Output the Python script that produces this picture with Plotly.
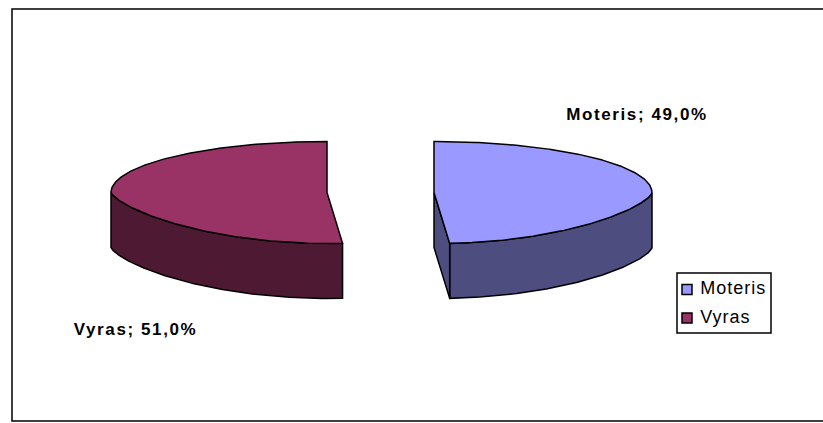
import numpy as np
import plotly.graph_objects as go

categories = ["Moteris", "Vyras"]
shares = [49.0, 51.0]
top_colors = ["#9999FF", "#993366"]
side_colors = ["#4D4D80", "#4D1933"]
label_texts = ["Moteris; 49,0%", "Vyras; 51,0%"]

# Pie geometry in pixel units of the hidden axes
centers_x = [434, 327]
center_y = 192.5
radii_x = [218, 216]
radius_y = 51
depth = 55
front_power = 1.4
front_shear = 2.0


def rim(cx, rx, theta_deg, drop=0.0):
    """Project clockwise-from-top angles onto the tilted disc."""
    t = np.radians(theta_deg)
    c = np.cos(t)
    y = np.where(c >= 0, c, -np.abs(c) ** front_power)
    shear = np.where(c < 0, -c * front_shear, 0.0)
    return cx + rx * np.sin(t) + shear, center_y - radius_y * y + drop


fig = go.Figure()
line = dict(color="black", width=1.5)


def polygon(xs, ys, color):
    fig.add_trace(go.Scatter(
        x=list(xs), y=list(ys), mode="lines", fill="toself", fillcolor=color,
        line=line, hoverinfo="skip", showlegend=False,
    ))


boundary = np.cumsum([0.0] + shares) * 3.6
for i, name in enumerate(categories):
    a0, a1 = boundary[i], boundary[i + 1]
    cx, rx = centers_x[i], radii_x[i]
    # outer wall: only the part of the rim facing the viewer
    lo, hi = max(a0, 90), min(a1, 270)
    wall = np.linspace(lo, hi, 120)
    x_top, y_top = rim(cx, rx, wall)
    x_bot, y_bot = rim(cx, rx, wall, depth)
    polygon(np.r_[x_top, x_bot[::-1], x_top[0]], np.r_[y_top, y_bot[::-1], y_top[0]], side_colors[i])
    # cut wall on the slice whose radial edge faces the viewer
    if i == 0:
        ex, ey = rim(cx, rx, np.array([a1]))
        polygon([cx, ex[0], ex[0], cx, cx],
                [center_y, ey[0], ey[0] + depth, center_y + depth, center_y], side_colors[i])
    # top face
    arc = np.linspace(a0, a1, 240)
    x_arc, y_arc = rim(cx, rx, arc)
    polygon(np.r_[cx, x_arc, cx], np.r_[center_y, y_arc, center_y], top_colors[i])

# Data labels
fig.add_trace(go.Scatter(
    x=[637, 135.5], y=[115.5, 331], mode="text", text=label_texts,
    textfont=dict(family="Liberation Sans", size=17, color="black"),
    texttemplate="<b>%{text}</b>", hoverinfo="skip", showlegend=False,
))

# Legend box and entries
fig.add_shape(type="rect", x0=677, x1=771, y0=273, y1=333, line=dict(color="black", width=1.5),
              fillcolor="white", layer="below")
fig.add_trace(go.Scatter(
    x=[687, 687], y=[289.5, 318], mode="markers+text", text=[" " + c for c in categories],
    textposition="middle right",
    textfont=dict(family="Liberation Sans", size=18, color="black"),
    marker=dict(symbol="square", size=10, color=top_colors, line=dict(color="black", width=1.5)),
    hoverinfo="skip", showlegend=False,
))

# Outer frame, open on the right
fig.add_shape(type="path", path="M 823 9 L 12 9 L 12 421 L 823 421",
              line=dict(color="black", width=1.5), layer="above")

fig.update_xaxes(range=[0, 823], visible=False, fixedrange=True)
fig.update_yaxes(range=[423, 0], visible=False, fixedrange=True)
fig.update_layout(
    width=823, height=423, margin=dict(l=0, r=0, t=0, b=0),
    paper_bgcolor="white", plot_bgcolor="white", showlegend=False,
)

# Wider tracking on all chart text, a little more on the bold labels
tracking = """
var css = document.createElement('style');
css.textContent = '.textpoint text { letter-spacing: 1px; } .textpoint text tspan { letter-spacing: 1.6px; }';
document.head.appendChild(css);
"""
fig.write_html("out.html", config=dict(displayModeBar=False), post_script=tracking)
